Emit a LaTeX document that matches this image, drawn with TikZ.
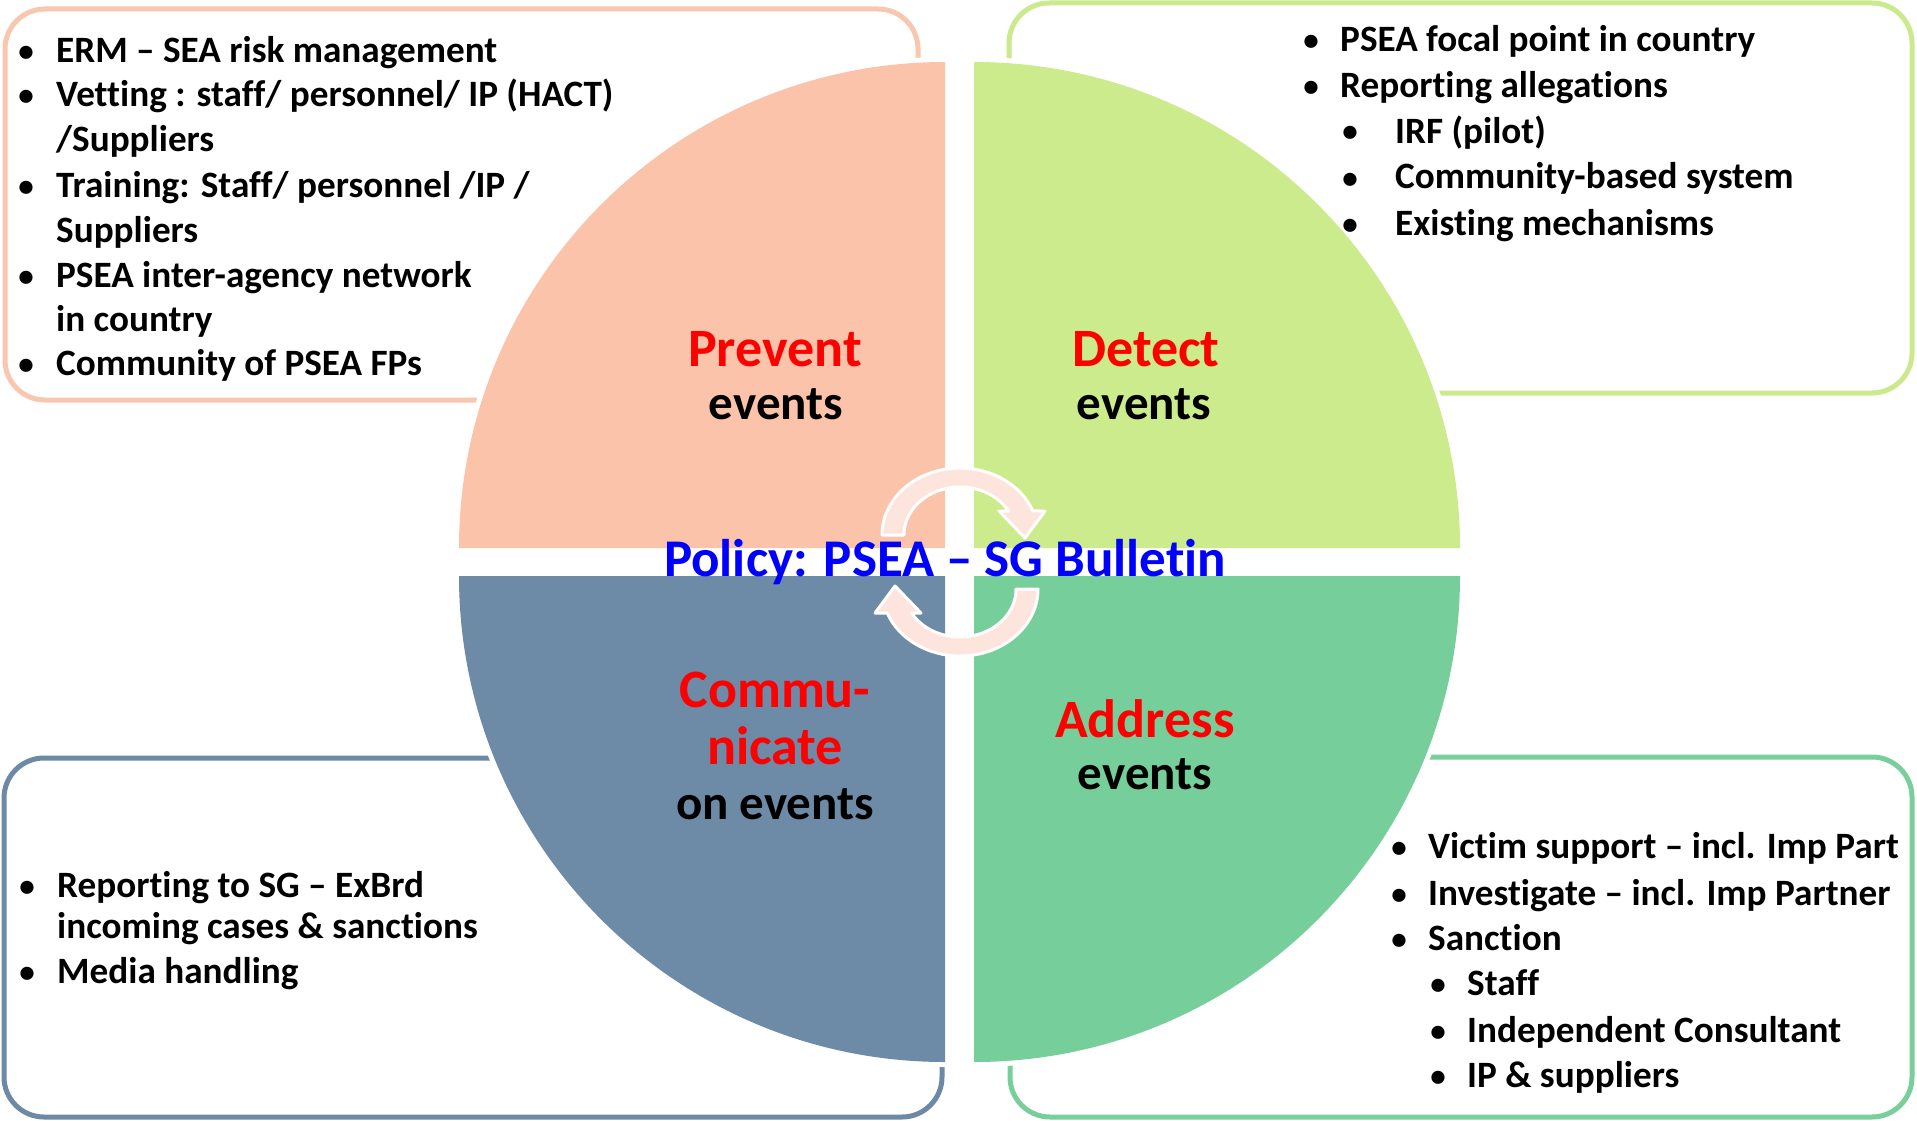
\documentclass[tikz,border=0pt]{standalone}
\usepackage{fontspec}
\setmainfont{Carlito}[Ligatures={NoCommon,NoContextual}]
\definecolor{peachF}{HTML}{FBC4AA}
\definecolor{peachL}{HTML}{F9C6AF}
\definecolor{limeF}{HTML}{CBEB8C}
\definecolor{limeL}{HTML}{CBE98D}
\definecolor{slateF}{HTML}{6D8AA7}
\definecolor{slateL}{HTML}{6E89A6}
\definecolor{mintF}{HTML}{76CE9B}
\definecolor{mintL}{HTML}{78CF9C}
\definecolor{arrowpink}{HTML}{FDE5DE}
\begin{document}
\begin{tikzpicture}[x=1pt,y=1pt,
  box/.style={line width=5, rounded corners=40},
  halo/.style={draw=white, line width=10},
  cyc/.style={fill=arrowpink, draw=white, line width=3, line join=round},
  body/.style={font=\fontsize{37.2}{44}\selectfont\bfseries, inner sep=0, anchor=base west},
  dot/.style={font=\fontsize{31}{44}\selectfont\bfseries, inner sep=0, anchor=base, yshift=1},
  ttl/.style={font=\fontsize{54}{55}\selectfont\bfseries, inner sep=0, anchor=base, text=red},
  sub/.style={font=\fontsize{49}{55}\selectfont\bfseries, inner sep=0, anchor=base, text=black},
  pol/.style={font=\fontsize{53}{55}\selectfont\bfseries, inner sep=0, anchor=base, text=blue}]
\fill[white] (0,0) rectangle (1917,-1121);
\useasboundingbox (0,0) rectangle (1917,-1121);

% text boxes
\draw[box, draw=peachL] (5,-9) rectangle (918,-400);
\draw[box, draw=limeL] (1009,-3) rectangle (1912,-393);
\draw[box, draw=slateL] (4,-758) rectangle (942,-1117);
\draw[box, draw=mintL] (1010,-757) rectangle (1912,-1117);

% pie halos
\draw[halo] (945,-548) -- ++(-486,0) arc[start angle=180,end angle=90,radius=486] -- cycle;
\draw[halo] (974,-548) -- ++(0,486) arc[start angle=90,end angle=0,radius=486] -- cycle;
\draw[halo] (945,-576) -- ++(0,-486) arc[start angle=270,end angle=180,radius=486] -- cycle;
\draw[halo] (974,-576) -- ++(486,0) arc[start angle=0,end angle=-90,radius=486] -- cycle;
% pie quadrants
\fill[peachF] (945,-548) -- ++(-486,0) arc[start angle=180,end angle=90,radius=486] -- cycle;
\fill[limeF] (974,-548) -- ++(0,486) arc[start angle=90,end angle=0,radius=486] -- cycle;
\fill[slateF] (945,-576) -- ++(0,-486) arc[start angle=270,end angle=180,radius=486] -- cycle;
\fill[mintF] (974,-576) -- ++(486,0) arc[start angle=0,end angle=-90,radius=486] -- cycle;

% circular arrows
\begin{scope}[shift={(960,-535)}]
\draw[cyc] (-78,0) arc[start angle=180, end angle=21, x radius=78, y radius=67] -- (85,24) -- (65,-3) -- (39,24) -- (48.5,24) arc[start angle=30, end angle=180, x radius=56, y radius=48] -- cycle;
\end{scope}
\begin{scope}[shift={(960,-562)}, rotate=180, shift={(0,27)}]
\draw[cyc] (-78,0) arc[start angle=180, end angle=21, x radius=78, y radius=67] -- (85,24) -- (65,-3) -- (39,24) -- (48.5,24) arc[start angle=30, end angle=180, x radius=56, y radius=48] -- cycle;
\end{scope}

% titles
\node[ttl] (prevent) at (775,-366) {Prevent};
\node[sub] (preventb) at (776,-419) {events};
\node[ttl] (detect) at (1146,-366) {Detect};
\node[sub] (detectb) at (1144,-419) {events};
\node[ttl] (commu) at (775,-707) {Commu-};
\node[ttl] (nicate) at (775,-764) {nicate};
\node[sub] (commub) at (775,-819) {on events};
\node[ttl] (address) at (1145,-737) {Address};
\node[sub] (addressb) at (1145,-789) {events};
\node[pol] (policy) at (945,-576) {Policy: PSEA – SG Bulletin};

% top-left list
\node[dot] (tl1d) at (26,-63) {•};
\node[body] (tl1) at (56,-63) {ERM – SEA risk management};
\node[dot] (tl2d) at (26,-107) {•};
\node[body] (tl2) at (56,-107) {Vetting : staff/ personnel/ IP (HACT)};
\node[body] (tl2b) at (56,-152) {/Suppliers};
\node[dot] (tl3d) at (26,-197) {•};
\node[body] (tl3) at (56,-197) {Training: Staff/ personnel /IP /};
\node[body] (tl3b) at (56,-242) {Suppliers};
\node[dot] (tl4d) at (26,-287) {•};
\node[body] (tl4) at (56,-287) {PSEA inter-agency network};
\node[body] (tl4b) at (56,-331) {in country};
\node[dot] (tl5d) at (26,-375) {•};
\node[body] (tl5) at (56,-375) {Community of PSEA FPs};

% top-right list
\node[dot] (tr1d) at (1311,-52) {•};
\node[body] (tr1) at (1340,-52) {PSEA focal point in country};
\node[dot] (tr2d) at (1311,-98) {•};
\node[body] (tr2) at (1340,-98) {Reporting allegations};
\node[dot] (tr3d) at (1350,-143) {•};
\node[body] (tr3) at (1395,-143) {IRF (pilot)};
\node[dot] (tr4d) at (1350,-189) {•};
\node[body] (tr4) at (1395,-189) {Community-based system};
\node[dot] (tr5d) at (1350,-235) {•};
\node[body] (tr5) at (1395,-235) {Existing mechanisms};

% bottom-left list
\node[dot] (bl1d) at (27,-897) {•};
\node[body] (bl1) at (57,-897) {Reporting to SG – ExBrd};
\node[body] (bl1b) at (57,-938) {incoming cases \& sanctions};
\node[dot] (bl2d) at (27,-983) {•};
\node[body] (bl2) at (57,-983) {Media handling};

% bottom-right list
\node[dot] (br1d) at (1399,-858) {•};
\node[body] (br1) at (1428,-858) {Victim support – incl. Imp Part};
\node[dot] (br2d) at (1399,-905) {•};
\node[body] (br2) at (1428,-905) {Investigate – incl. Imp Partner};
\node[dot] (br3d) at (1399,-950) {•};
\node[body] (br3) at (1428,-950) {Sanction};
\node[dot] (br4d) at (1438,-995) {•};
\node[body] (br4) at (1467,-995) {Staff};
\node[dot] (br5d) at (1438,-1042) {•};
\node[body] (br5) at (1467,-1042) {Independent Consultant};
\node[dot] (br6d) at (1438,-1087) {•};
\node[body] (br6) at (1467,-1087) {IP \& suppliers};
\end{tikzpicture}
\end{document}
